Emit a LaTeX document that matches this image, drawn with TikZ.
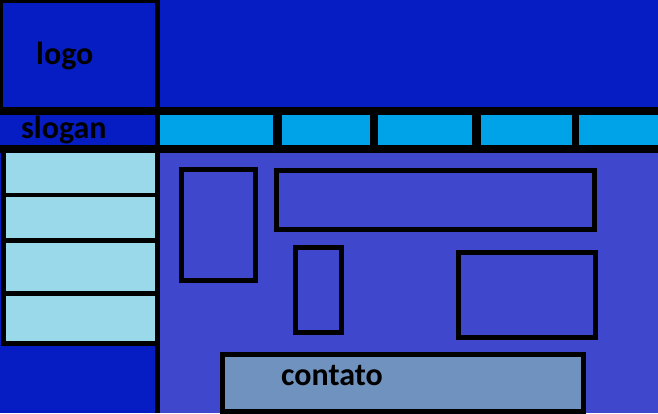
\documentclass[tikz,border=0pt]{standalone}
\usepackage{fontspec}
\setmainfont{Carlito}
\definecolor{fundo}{RGB}{6,29,196}
\definecolor{conteudo}{RGB}{63,72,204}
\definecolor{azulmenu}{RGB}{0,162,232}
\definecolor{azullateral}{RGB}{153,217,234}
\definecolor{azulcontato}{RGB}{112,146,190}
\begin{document}
\begin{tikzpicture}[
    x=1pt,
    y=-1pt,
    faixa/.style={
        fill=black
    },
    menu/.style={
        fill=azulmenu
    },
    lateral/.style={
        fill=azullateral
    },
    bloco/.style={
        draw=black,
        line width=5pt,
        fill=conteudo
    },
    rotulo/.style={
        font=\fontsize{32}{38}\selectfont\bfseries,
        text=black,
        anchor=base west,
        inner sep=0pt
    }
]

\useasboundingbox (0,0) rectangle (658,413);
\clip (0,0) rectangle (658,413);

% Fundo
\fill[fundo] (0,0) rectangle (658,413);

% Logo
\draw[line width=5pt] (0,0) rectangle (157.5,111);
\node[rotulo] (logo) at (36,64) {logo};

% Faixas pretas
\fill[faixa] (0,107) rectangle (658,115);
\fill[faixa] (0,145) rectangle (658,153);
\fill[faixa] (155,0) rectangle (160,413);
\fill[faixa] (160,115) rectangle (658,145);

% Slogan
\node[rotulo] (slogan) at (21,138) {slogan};

% Menu
\fill[menu] (160,115) rectangle (273,145);
\fill[menu] (282,115) rectangle (370,145);
\fill[menu] (378,115) rectangle (472,145);
\fill[menu] (481,115) rectangle (572,145);
\fill[menu] (579,115) rectangle (658,145);

% Barra lateral
\fill[faixa] (1,153) rectangle (155,346);
\fill[lateral] (6,153) rectangle (155,193);
\fill[lateral] (6,197) rectangle (155,238);
\fill[lateral] (6,243) rectangle (155,291);
\fill[lateral] (6,296) rectangle (155,341);

% Conteúdo
\fill[conteudo] (160,153) rectangle (658,413);
\draw[bloco] (181.5,169.5) rectangle (255.5,280.5);
\draw[bloco] (276.5,170.5) rectangle (594.5,229.5);
\draw[bloco] (295.5,247.5) rectangle (341.5,332.5);
\draw[bloco] (458.5,252.5) rectangle (595.5,337.5);

% Contato
\draw[bloco, fill=azulcontato] (222.5,354.5) rectangle (583.5,411.5);
\node[rotulo] (contato) at (281,385) {contato};

\end{tikzpicture}
\end{document}
